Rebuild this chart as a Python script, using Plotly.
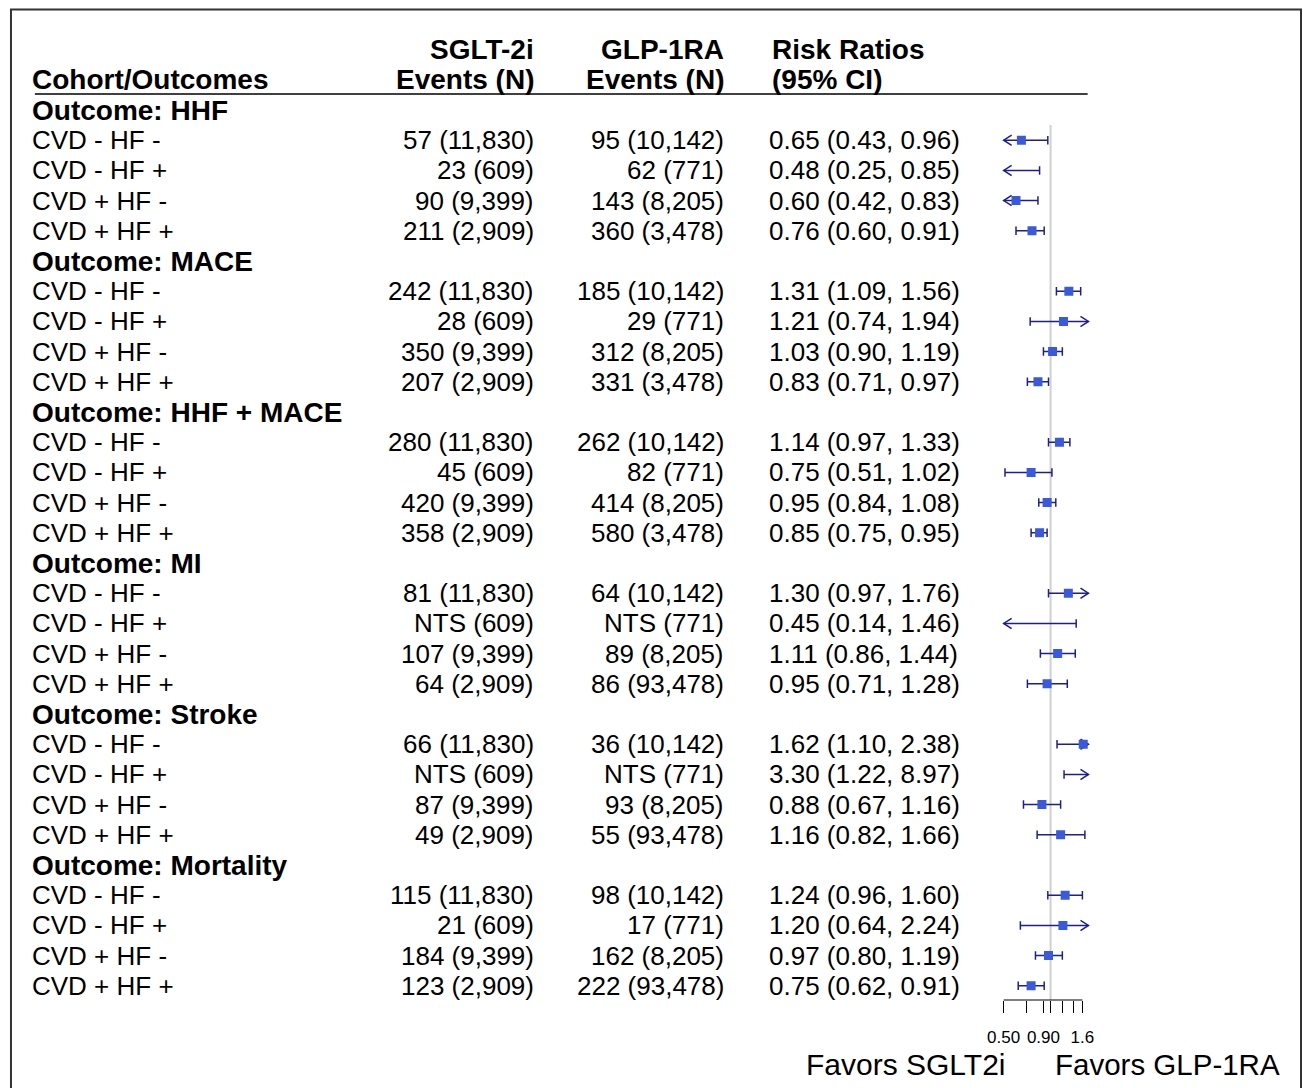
import math
import plotly.graph_objects as go

# ---------------- data ----------------
groups = ["Outcome: HHF", "Outcome: MACE", "Outcome: HHF + MACE",
          "Outcome: MI", "Outcome: Stroke", "Outcome: Mortality"]
cohorts = ["CVD - HF -", "CVD - HF +", "CVD + HF -", "CVD + HF +"]

sglt_events = [
    "57 (11,830)", "23 (609)", "90 (9,399)", "211 (2,909)",
    "242 (11,830)", "28 (609)", "350 (9,399)", "207 (2,909)",
    "280 (11,830)", "45 (609)", "420 (9,399)", "358 (2,909)",
    "81 (11,830)", "NTS (609)", "107 (9,399)", "64 (2,909)",
    "66 (11,830)", "NTS (609)", "87 (9,399)", "49 (2,909)",
    "115 (11,830)", "21 (609)", "184 (9,399)", "123 (2,909)",
]
glp_events = [
    "95 (10,142)", "62 (771)", "143 (8,205)", "360 (3,478)",
    "185 (10,142)", "29 (771)", "312 (8,205)", "331 (3,478)",
    "262 (10,142)", "82 (771)", "414 (8,205)", "580 (3,478)",
    "64 (10,142)", "NTS (771)", "89 (8,205)", "86 (93,478)",
    "36 (10,142)", "NTS (771)", "93 (8,205)", "55 (93,478)",
    "98 (10,142)", "17 (771)", "162 (8,205)", "222 (93,478)",
]
rr = [0.65, 0.48, 0.60, 0.76,
      1.31, 1.21, 1.03, 0.83,
      1.14, 0.75, 0.95, 0.85,
      1.30, 0.45, 1.11, 0.95,
      1.62, 3.30, 0.88, 1.16,
      1.24, 1.20, 0.97, 0.75]
rr_lo = [0.43, 0.25, 0.42, 0.60,
         1.09, 0.74, 0.90, 0.71,
         0.97, 0.51, 0.84, 0.75,
         0.97, 0.14, 0.86, 0.71,
         1.10, 1.22, 0.67, 0.82,
         0.96, 0.64, 0.80, 0.62]
rr_hi = [0.96, 0.85, 0.83, 0.91,
         1.56, 1.94, 1.19, 0.97,
         1.33, 1.02, 1.08, 0.95,
         1.76, 1.46, 1.44, 1.28,
         2.38, 8.97, 1.16, 1.66,
         1.60, 2.24, 1.19, 0.91]

tick_vals = [0.5, 0.7, 0.9, 1.0, 1.2, 1.4, 1.6]
tick_text = ["0.50", "", "0.90", "", "", "", "1.6"]
clip_lo, clip_hi = 0.5, 1.75

header1 = ["", "SGLT-2i", "GLP-1RA", "Risk Ratios"]
header2 = ["Cohort/Outcomes", "Events (N)", "Events (N)", "(95% CI)"]
favors = ["Favors SGLT2i", "Favors GLP-1RA"]

# ---------------- layout geometry ----------------
W, H = 1303, 1088
row0_px, row_step = 110.0, 30.2          # pixel centre of row 0 and spacing
y_top = -row0_px / row_step
y_bot = (H - row0_px) / row_step
axis_px = 1000.0
axis_row = (axis_px - row0_px) / row_step

# x (log) axis geometry: 1.0 at px 1049.8, 67.9 px per ln-unit
one_px, px_per_ln = 1049.8, 67.9
dom_px = (990.0, 1100.0)
r0 = ((dom_px[0] - one_px) / px_per_ln) / math.log(10)
r1 = ((dom_px[1] - one_px) / px_per_ln) / math.log(10)

def px(x):
    return x / W

FONT = "Liberation Sans, Arial, sans-serif"
REG, BOLD = 26, 28
line_col = "#1f1f8c"
box_col = "#3a5ad9"

fig = go.Figure()

# reference line at 1
fig.add_trace(go.Scatter(x=[1, 1], y=[0.5, axis_row], mode="lines",
                         line=dict(color="#d0d0d0", width=2),
                         hoverinfo="skip", showlegend=False))

# axis line from first to last tick
fig.add_trace(go.Scatter(x=[tick_vals[0], tick_vals[-1]], y=[axis_row, axis_row],
                         mode="lines", line=dict(color="black", width=1.2),
                         hoverinfo="skip", showlegend=False))

# CI lines, caps, arrows
ci_x, ci_y = [], []
arr_x, arr_y = [], []
box_x, box_y = [], []
cap_h = 0.14
arr_len = 8.0 / px_per_ln
arr_h = 0.17
annotations = []
for i in range(len(rr)):
    g, k = divmod(i, 4)
    row = g * 5 + 1 + k
    lo, hi, m = rr_lo[i], rr_hi[i], rr[i]
    a = max(lo, clip_lo)
    b = min(hi, clip_hi)
    ci_x += [a, b, None]
    ci_y += [row, row, None]
    if lo >= clip_lo:
        ci_x += [lo, lo, None]
        ci_y += [row - cap_h, row + cap_h, None]
    else:
        ax_ = clip_lo * math.exp(arr_len)
        arr_x += [ax_, clip_lo, ax_, None]
        arr_y += [row - arr_h, row, row + arr_h, None]
    if hi <= clip_hi:
        ci_x += [hi, hi, None]
        ci_y += [row - cap_h, row + cap_h, None]
    else:
        ax_ = clip_hi * math.exp(-arr_len)
        arr_x += [ax_, clip_hi, ax_, None]
        arr_y += [row - arr_h, row, row + arr_h, None]
    if clip_lo <= m <= clip_hi:
        box_x.append(m)
        box_y.append(row)

fig.add_trace(go.Scatter(x=ci_x, y=ci_y, mode="lines",
                         line=dict(color=line_col, width=1.5),
                         hoverinfo="skip", showlegend=False))
fig.add_trace(go.Scatter(x=arr_x, y=arr_y, mode="lines",
                         line=dict(color=line_col, width=1.5),
                         hoverinfo="skip", showlegend=False))
fig.add_trace(go.Scatter(x=box_x, y=box_y, mode="markers",
                         marker=dict(symbol="square", size=9, color=box_col,
                                     line=dict(width=0)),
                         showlegend=False))

# ---------------- table text ----------------
col_x = [26, 534, 724, 765]
col_anchor = ["left", "right", "right", "left"]

def txt(x, row, s, anchor, size=REG, bold=False):
    annotations.append(dict(
        x=px(x), y=row, xref="paper", yref="y", text=("<b>%s</b>" % s) if bold else s,
        showarrow=False, xanchor=anchor, yanchor="middle",
        font=dict(family=FONT, size=size, color="black")))

for j in range(4):
    hx = col_x[j] + (3 if j == 3 else 0)
    if header1[j]:
        txt(hx, -2, header1[j], col_anchor[j], BOLD, True)
    txt(hx, -1, header2[j], col_anchor[j], BOLD, True)

for g, name in enumerate(groups):
    txt(col_x[0], g * 5, name, "left", BOLD, True)
    for k, c in enumerate(cohorts):
        i = g * 4 + k
        row = g * 5 + 1 + k
        txt(col_x[0], row, c, "left")
        txt(col_x[1], row, sglt_events[i], "right")
        txt(col_x[2], row, glp_events[i], "right")
        txt(col_x[3], row, "%.2f (%.2f, %.2f)" % (rr[i], rr_lo[i], rr_hi[i]), "left")

fav_row = (1064 - row0_px) / row_step
annotations.append(dict(x=px(1007), y=fav_row, xref="paper", yref="y", text=favors[0],
                        showarrow=False, xanchor="right", yanchor="middle",
                        font=dict(family=FONT, size=30, color="black")))
annotations.append(dict(x=px(1052), y=fav_row, xref="paper", yref="y", text=favors[1],
                        showarrow=False, xanchor="left", yanchor="middle",
                        font=dict(family=FONT, size=29.5, color="black")))

shapes = [
    # header underline
    dict(type="line", xref="paper", yref="y", x0=px(31), x1=px(1087),
         y0=(94 - row0_px) / row_step, y1=(94 - row0_px) / row_step,
         line=dict(color="black", width=1.5)),
    # outer border
    dict(type="rect", xref="paper", yref="paper", x0=px(7), x1=px(1301),
         y0=-0.05, y1=1 - 9.5 / H, line=dict(color="#333333", width=2)),
]

fig.update_layout(
    width=W, height=H,
    margin=dict(l=0, r=0, t=0, b=0),
    paper_bgcolor="white", plot_bgcolor="rgba(0,0,0,0)",
    annotations=annotations, shapes=shapes,
    xaxis=dict(type="log", domain=[px(dom_px[0]), px(dom_px[1])], range=[r0, r1],
               anchor="free", position=1 - axis_px / H,
               showgrid=False, zeroline=False, showline=False,
               tickvals=tick_vals, ticktext=tick_text,
               ticks="outside", ticklen=12, tickwidth=1.2, tickcolor="black",
               ticklabelstandoff=10,
               tickfont=dict(family=FONT, size=17, color="black")),
    yaxis=dict(domain=[0, 1], range=[y_bot, y_top], visible=False,
               showgrid=False, zeroline=False),
    font=dict(family=FONT),
)

fig.write_html("out.html", config={"displayModeBar": False},
               post_script="document.body.style.margin='0px';document.body.style.overflow='hidden';")
